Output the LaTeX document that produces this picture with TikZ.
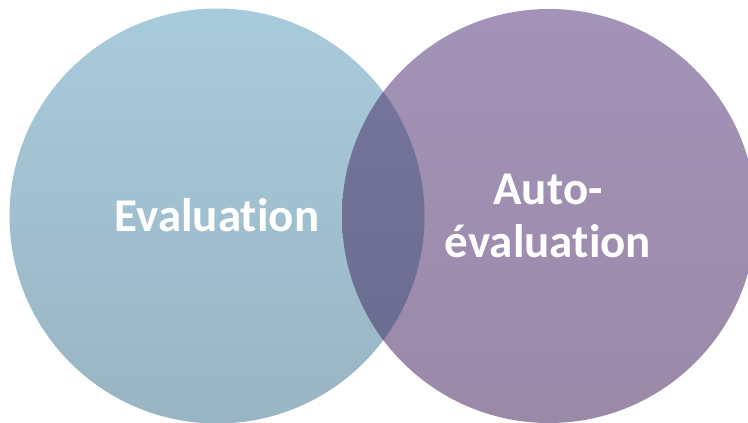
\documentclass[tikz,border=0pt]{standalone}
\usepackage{fontspec}
\setmainfont{Carlito}[Ligatures=NoCommon]
\definecolor{bluetop}{HTML}{A8CBDC}
\definecolor{bluebot}{HTML}{99B4C2}
\definecolor{purtop}{HTML}{A393B8}
\definecolor{purbot}{HTML}{9A89A7}
\definecolor{lenstop}{HTML}{76769F}
\definecolor{lensbot}{HTML}{696A8E}
\tikzset{
  vlabel/.style={text=white, font=\bfseries\fontsize{47bp}{53bp}\selectfont, align=center, inner sep=0pt}
}
\begin{document}
\begin{tikzpicture}[x=1bp,y=1bp]
\useasboundingbox (0,0) rectangle (748,422);
\coordinate (cl) at (217,206);
\coordinate (cr) at (549,206);
\shade[top color=bluetop, bottom color=bluebot] (cl) circle (207.5);
\shade[top color=purtop, bottom color=purbot] (cr) circle (207);
\begin{scope}
  \clip (cl) circle (207.5);
  \shade[top color=lenstop, bottom color=lensbot] (cr) circle (207);
\end{scope}
\node[vlabel] (eval) at (217,207) {Evaluation};
\node[vlabel] (auto) at (548,206) {Auto-\\évaluation};
\end{tikzpicture}
\end{document}
